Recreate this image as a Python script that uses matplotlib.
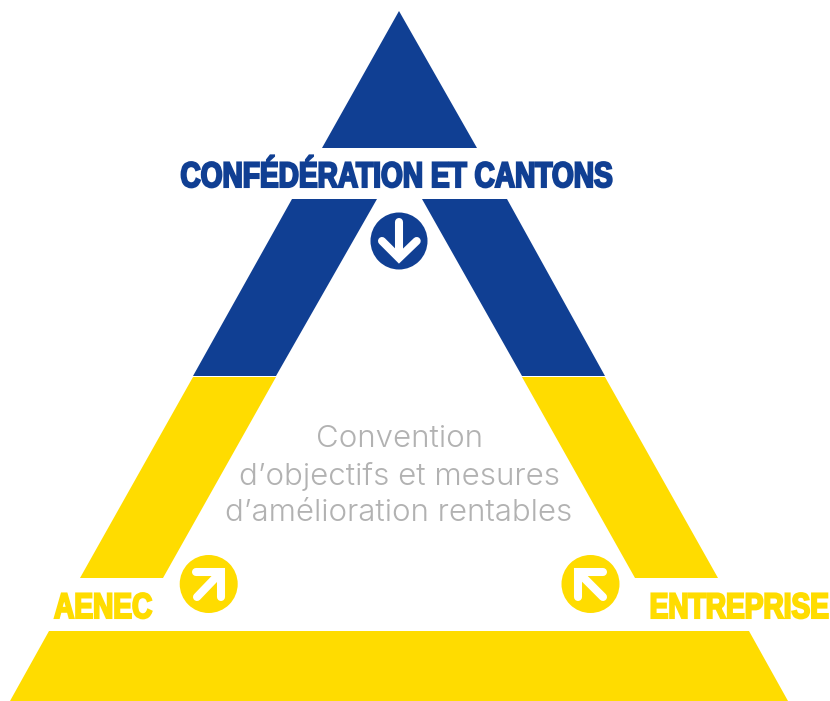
import matplotlib
matplotlib.use("Agg")
import matplotlib.pyplot as plt
import matplotlib.patheffects as pe
from matplotlib.patches import Polygon, Circle, PathPatch
from matplotlib.path import Path
from matplotlib.transforms import Affine2D

BLUE = "#103F93"
YELLOW = "#FFDC00"
GREY = "#B2B2B2"

blue_shapes = [
    [(399, 11), (477, 148), (322, 148)],
    [(292, 199), (377, 199), (276, 376), (193, 376)],
    [(422, 199), (507, 199), (605, 376), (522, 376)],
]
yellow_shapes = [
    [(193, 377), (276, 377), (163, 578), (80, 578)],
    [(522, 377), (605, 377), (718, 578), (635, 578)],
    [(49, 631), (749, 631), (788, 701), (10, 701)],
]
badges = [
    ((399, 241), 28.5, BLUE),
    ((208.7, 584), 29, YELLOW),
    ((590.5, 584), 29, YELLOW),
]
arrow_strokes = [
    [[(399, 222), (399, 257)], [(382, 241), (399, 258), (416.7, 241)]],
    [[(221, 572), (197, 597)], [(196, 572), (221, 572), (221, 597)]],
    [[(578, 572), (603, 597)], [(603, 572), (578, 572), (578, 597)]],
]
heavy_labels = [
    ("CONFÉDÉRATION ET CANTONS", 396, 187, BLUE),
    ("AENEC", 103, 618, YELLOW),
    ("ENTREPRISE", 739, 618, YELLOW),
]
body_lines = [
    ("Convention", 399, 447),
    ("d’objectifs et mesures", 399, 485),
    ("d’amélioration rentables", 399, 521),
]


class TallHeavy(pe.AbstractPathEffect):
    """Makes real text taller from its baseline and a little heavier."""

    def __init__(self, stretch, weight):
        super().__init__()
        self.stretch = stretch
        self.weight = weight

    def draw_path(self, renderer, gc, tpath, affine, rgbFace=None):
        gc2 = renderer.new_gc()
        gc2.copy_properties(gc)
        gc2.set_foreground(rgbFace)
        gc2.set_linewidth(self.weight)
        gc2.set_joinstyle("miter")
        renderer.draw_path(gc2, tpath, Affine2D().scale(1, self.stretch) + affine, rgbFace)
        gc2.restore()


fig = plt.figure(figsize=(8.30, 7.01), dpi=100, facecolor="white")
ax = fig.add_axes([0, 0, 1, 1])
ax.set_xlim(0, 830)
ax.set_ylim(701, 0)
ax.axis("off")

for pts in blue_shapes:
    ax.add_patch(Polygon(pts, closed=True, fc=BLUE, ec="none"))
for pts in yellow_shapes:
    ax.add_patch(Polygon(pts, closed=True, fc=YELLOW, ec="none"))
for centre, radius, colour in badges:
    ax.add_patch(Circle(centre, radius, fc=colour, ec="none"))
for strokes in arrow_strokes:
    for pts in strokes:
        codes = [Path.MOVETO] + [Path.LINETO] * (len(pts) - 1)
        ax.add_patch(PathPatch(Path(pts, codes), fc="none", ec="white", lw=5.8,
                               capstyle="round", joinstyle="miter"))
for label, x, y, colour in heavy_labels:
    ax.text(x, y, label, color=colour, fontsize=20.2, fontweight="bold",
            family="Liberation Sans", ha="center", va="baseline",
            path_effects=[TallHeavy(1.27, 1.5)])
for label, x, y in body_lines:
    ax.text(x, y, label, color=GREY, fontsize=22.5, family="Inter", fontweight=300,
            ha="center", va="baseline")

fig.savefig("out.png", dpi=100, facecolor="white")
